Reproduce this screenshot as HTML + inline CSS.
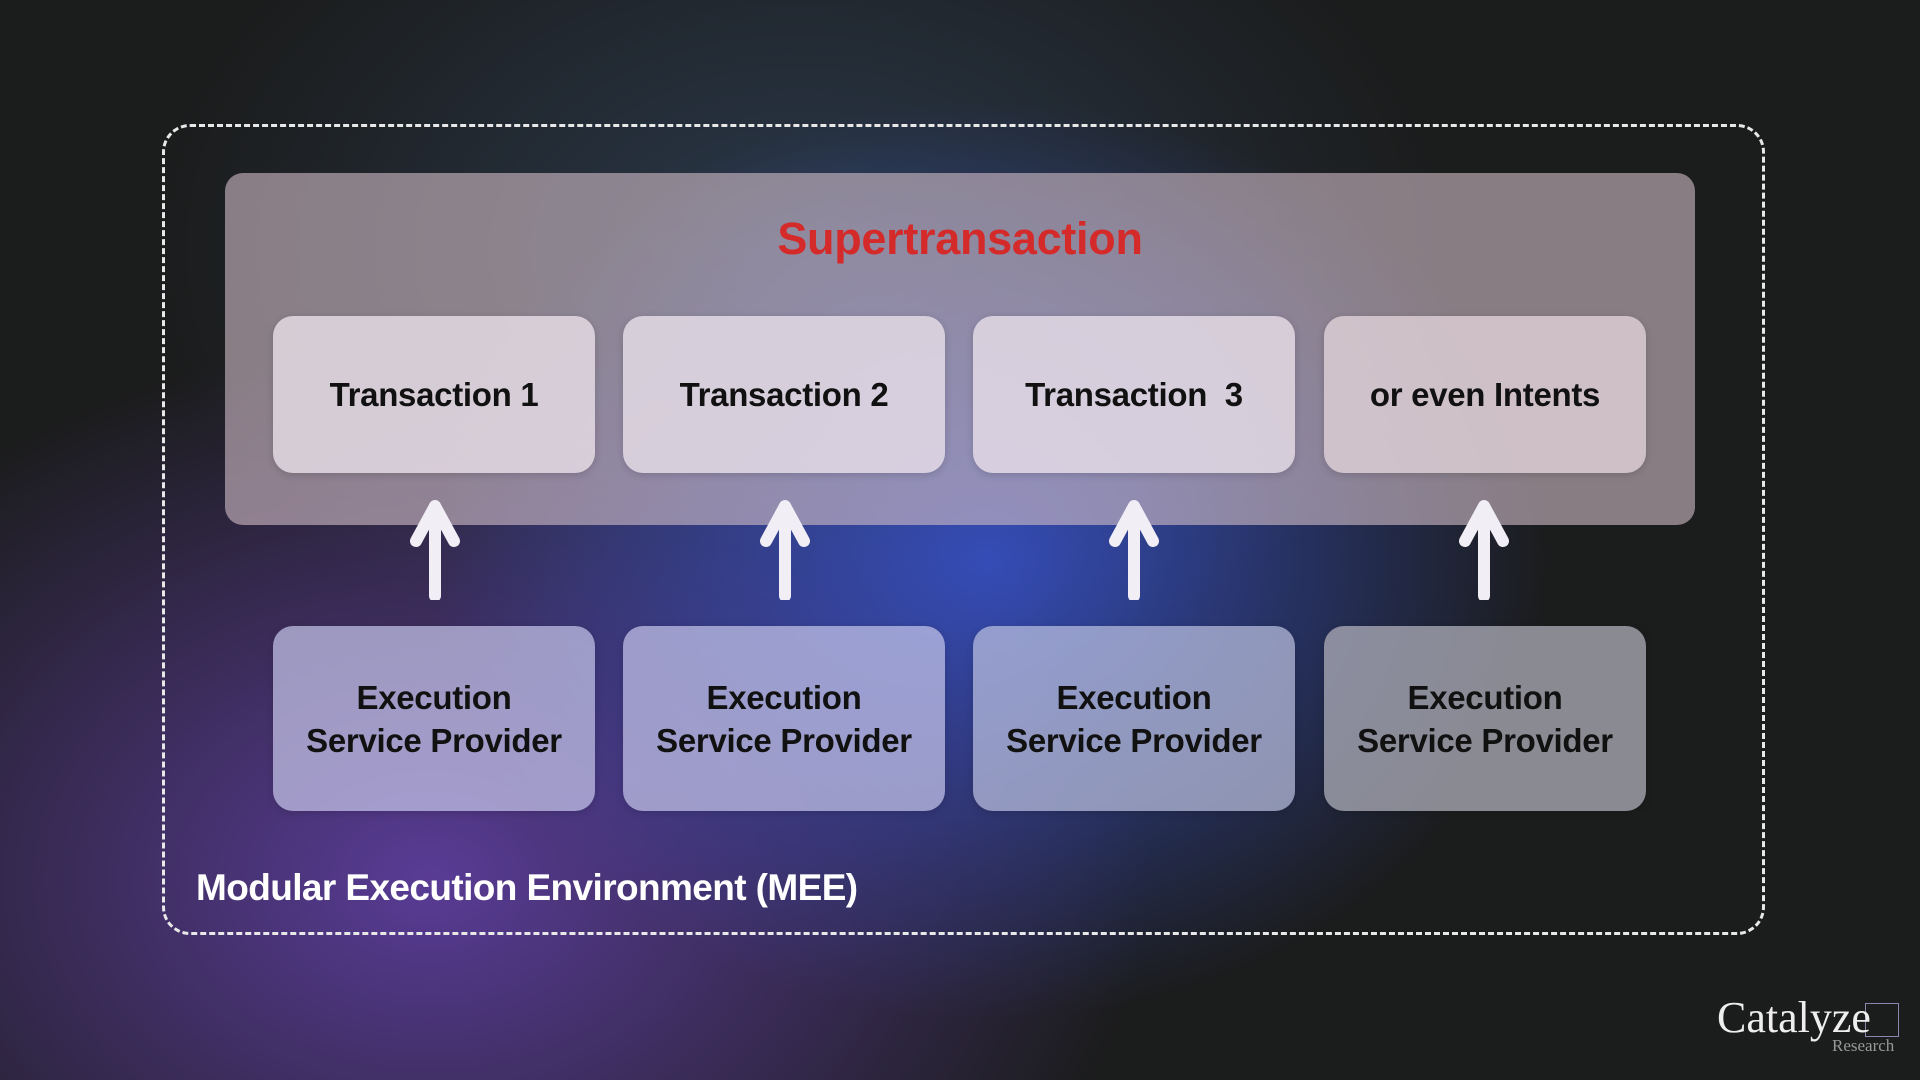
<!DOCTYPE html>
<html><head><meta charset="utf-8"><style>
html,body{margin:0;padding:0}
body{width:1920px;height:1080px;position:relative;overflow:hidden;background:#1b1c1c;font-family:"Liberation Sans",sans-serif;}
.bg{position:absolute;inset:0;background:
radial-gradient(ellipse 560px 460px at 990px 560px, rgba(60,90,230,0.75), rgba(60,90,230,0) 100%),
radial-gradient(ellipse 720px 540px at 430px 880px, rgba(110,70,190,0.75), rgba(110,70,190,0) 100%),
radial-gradient(ellipse 650px 450px at 800px 250px, rgba(60,90,130,0.45), rgba(60,90,130,0) 100%);}
.dash{position:absolute;left:162px;top:124px;width:1597px;height:805px;border:3px dashed #e8e8e8;border-radius:28px;}
.panel{position:absolute;left:225px;top:173px;width:1470px;height:352px;border-radius:18px;background:rgba(210,190,200,0.6);}
.title{position:absolute;left:225px;width:1470px;top:213px;text-align:center;color:#d42a2a;font-size:45px;font-weight:600;letter-spacing:-0.3px}
.box{position:absolute;width:322px;border-radius:20px;display:flex;align-items:center;justify-content:center;text-align:center;color:#111;font-size:33px;font-weight:600;line-height:43px;letter-spacing:-0.3px;box-shadow:0 2px 8px rgba(0,0,0,0.15)}
.t{top:316px;height:157px;background:rgba(235,225,235,0.78)}
.e{top:626px;height:185px;background:rgba(200,200,235,0.7)}
.arr{position:absolute;top:498px;width:60px;height:102px}
.mee{position:absolute;left:196px;top:867px;color:#fff;font-size:37px;font-weight:600;letter-spacing:-0.6px}
.logo{position:absolute;left:1717px;top:992px;color:#eee;font-family:"Liberation Serif",serif;font-size:44px}
.res{position:absolute;left:1832px;top:1036px;color:#999;font-family:"Liberation Serif",serif;font-size:17px}
.sq{position:absolute;left:1865px;top:1003px;width:32px;height:32px;border:1px solid #8a88b0}
</style></head><body>
<div class="bg"></div>
<div class="dash"></div>
<div class="panel"></div>
<div class="title">Supertransaction</div>
<div class="box t" style="left:273px">Transaction 1</div>
<div class="box t" style="left:623px">Transaction 2</div>
<div class="box t" style="left:973px">Transaction&nbsp; 3</div>
<div class="box t" style="left:1324px;background:rgba(230,215,220,0.75)">or even Intents</div>
<div class="box e" style="left:273px">Execution<br>Service Provider</div>
<div class="box e" style="left:623px">Execution<br>Service Provider</div>
<div class="box e" style="left:973px;background:rgba(190,195,225,0.7)">Execution<br>Service Provider</div>
<div class="box e" style="left:1324px;background:rgba(175,175,185,0.75)">Execution<br>Service Provider</div>
<svg class="arr" style="left:405px" viewBox="0 0 60 102"><path d="M30 98 V10 M11 43 L30 8 L49 43" stroke="#f2eef5" stroke-width="12" fill="none" stroke-linecap="round" stroke-linejoin="round"/></svg>
<svg class="arr" style="left:755px" viewBox="0 0 60 102"><path d="M30 98 V10 M11 43 L30 8 L49 43" stroke="#f2eef5" stroke-width="12" fill="none" stroke-linecap="round" stroke-linejoin="round"/></svg>
<svg class="arr" style="left:1104px" viewBox="0 0 60 102"><path d="M30 98 V10 M11 43 L30 8 L49 43" stroke="#f2eef5" stroke-width="12" fill="none" stroke-linecap="round" stroke-linejoin="round"/></svg>
<svg class="arr" style="left:1454px" viewBox="0 0 60 102"><path d="M30 98 V10 M11 43 L30 8 L49 43" stroke="#f2eef5" stroke-width="12" fill="none" stroke-linecap="round" stroke-linejoin="round"/></svg>
<div class="mee">Modular Execution Environment (MEE)</div>
<div class="sq"></div>
<div class="logo">Catalyze</div>
<div class="res">Research</div>
</body></html>
